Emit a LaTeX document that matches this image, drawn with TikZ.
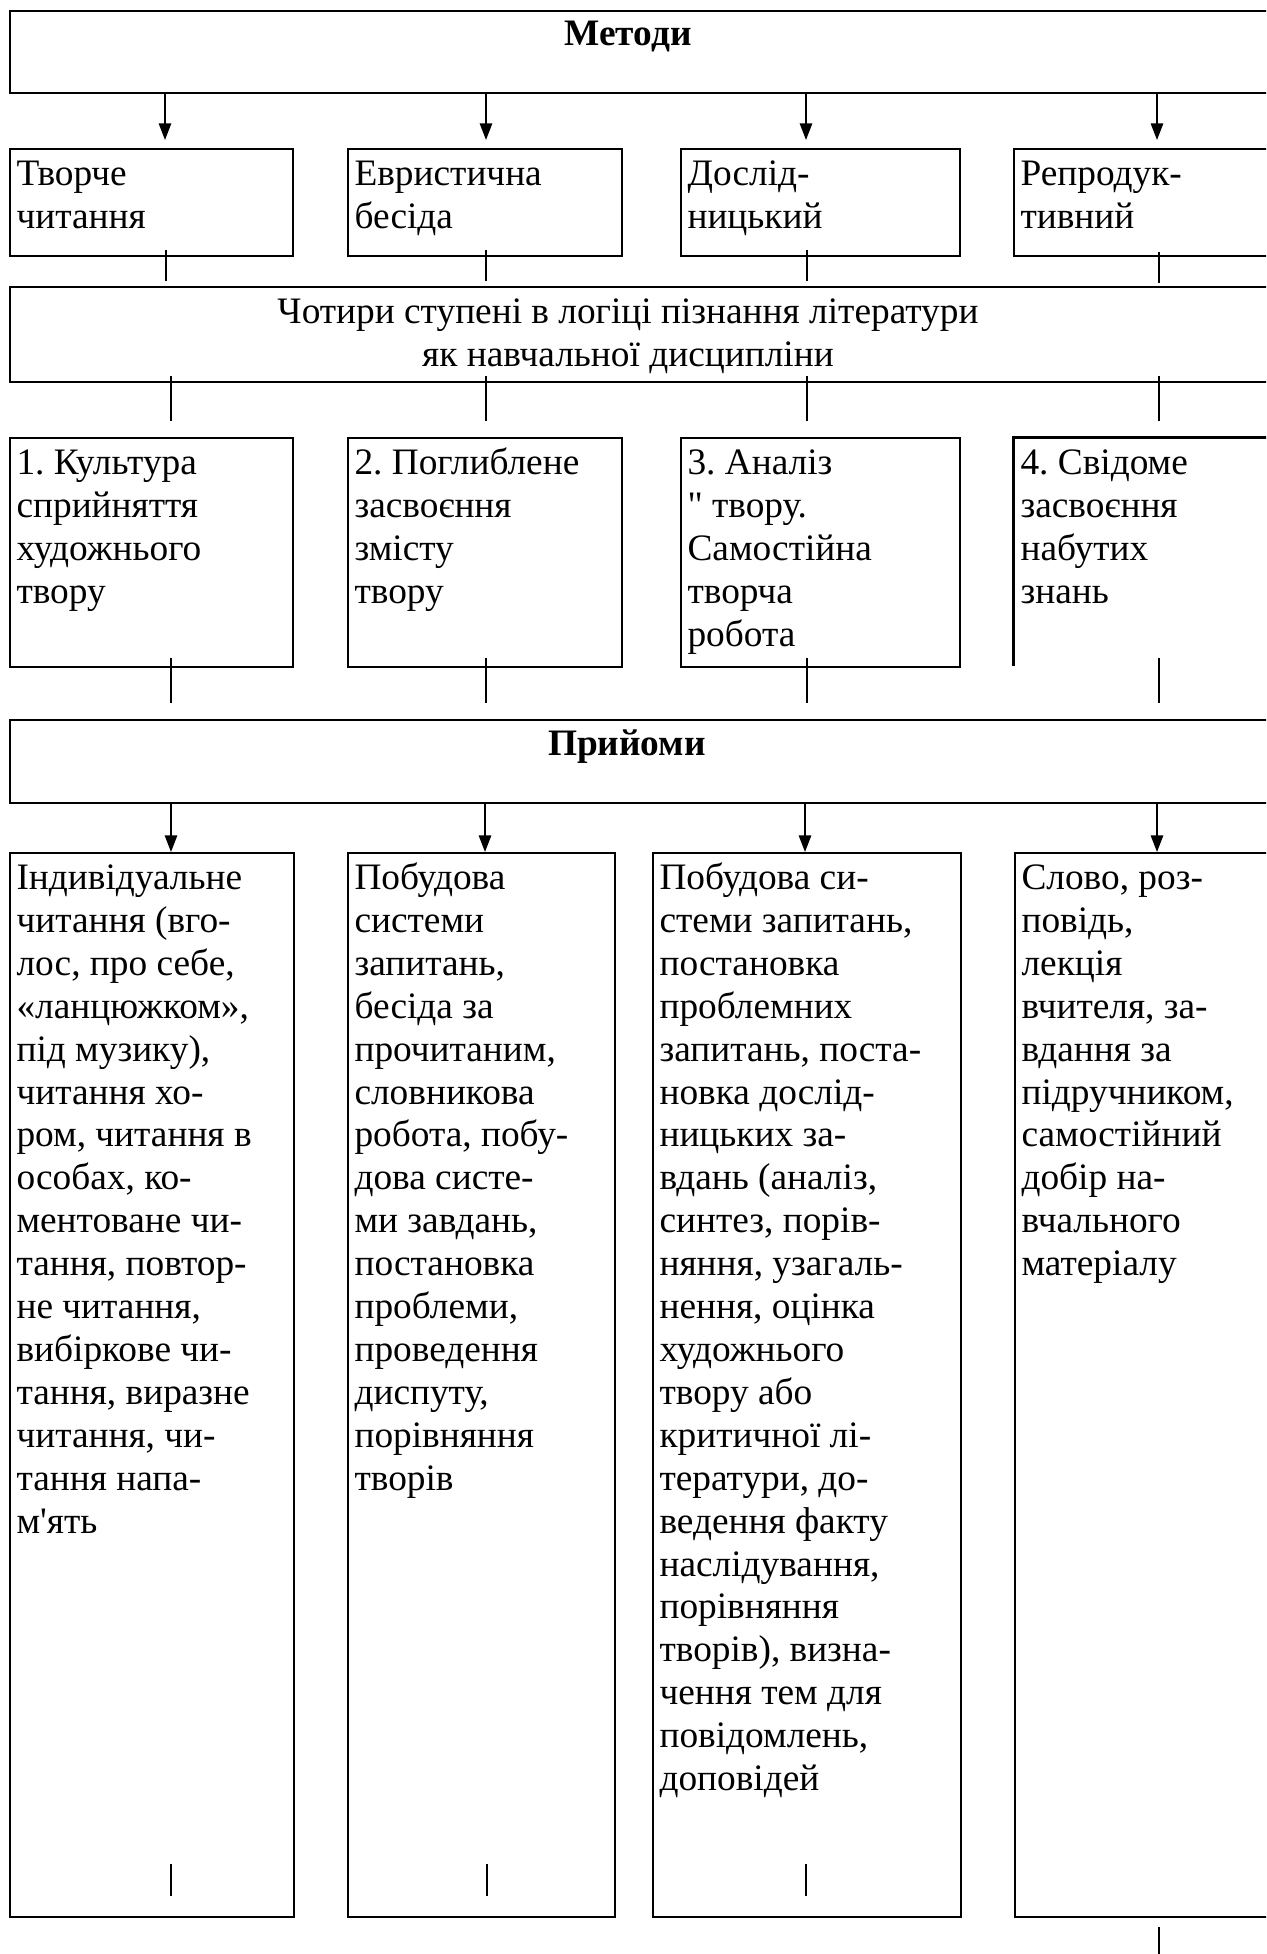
\documentclass[tikz,border=0pt]{standalone}
\usepackage{fontspec}
\setmainfont{Liberation Serif}[Ligatures=TeXOff]
\usetikzlibrary{arrows.meta,fit}
\newcommand\firststrut{\rule{0pt}{13pt}}
\frenchspacing
\begin{document}
\begin{tikzpicture}[x=0.375pt,y=-0.375pt,
  box/.style={draw,line width=0.9pt,inner sep=0pt},
  nobox/.style={inner sep=0pt},
  txt/.style={anchor=north west,inner sep=0pt,align=left,font=\fontsize{14}{16.09}\selectfont\frenchspacing},
  ctxt/.style={anchor=north,inner sep=0pt,align=center,font=\fontsize{14}{16.09}\selectfont},
  hdr/.style={anchor=base,inner sep=0pt,font=\fontsize{14}{16.09}\selectfont\bfseries},
  tick/.style={line width=0.5pt},
  arr/.style={line width=0.65pt,-{Triangle[length=6.2pt,width=4.6pt]}}]
\useasboundingbox (0,0) rectangle (1266,1954);
\clip (0,0) rectangle (1266,1954);

% Row 1: Методи
\node[box,fit={(10,11)(1290,93)}] (m) {};
\node[hdr] (mt) at (628,46) {Методи};

% Row 2
\node[box,fit={(10,149)(293,256)}] (a1) {};
\node[box,fit={(348,149)(622,256)}] (a2) {};
\node[box,fit={(681,149)(960,256)}] (a3) {};
\node[box,fit={(1014,149)(1290,256)}] (a4) {};
\node[txt] (a1t) at (16,150.3) {\firststrut Творче\\читання};
\node[txt] (a2t) at (354,150.3) {\firststrut Евристична\\бесіда};
\node[txt] (a3t) at (687,150.3) {\firststrut Дослід-\\ницький};
\node[txt] (a4t) at (1020,150.3) {\firststrut Репродук-\\тивний};

% Row 3
\node[box,fit={(10,287)(1290,382)}] (c) {};
\node[ctxt] (ct) at (628,288.3) {\firststrut Чотири ступені в логіці пізнання літератури\\як навчальної дисципліни};

% Row 4
\node[box,fit={(10,438)(293,667)}] (b1) {};
\node[box,fit={(348,438)(622,667)}] (b2) {};
\node[box,fit={(681,438)(960,667)}] (b3) {};
\node[nobox,fit={(1014,438)(1290,665)}] (b4) {};
\draw[line width=0.9pt] (b4.south west) -- (b4.north west) -- (b4.north east);
\node[txt] (b1t) at (16,439.3) {\firststrut 1. Культура\\сприйняття\\художнього\\твору};
\node[txt] (b2t) at (354,439.3) {\firststrut 2. Поглиблене\\засвоєння\\змісту\\твору};
\node[txt] (b3t) at (687,439.3) {\firststrut 3. Аналіз\\" твору.\\Самостійна\\творча\\робота};
\node[txt] (b4t) at (1020,439.3) {\firststrut 4. Свідоме\\засвоєння\\набутих\\знань};

% Row 5: Прийоми
\node[box,fit={(10,720)(1290,803)}] (p) {};
\node[hdr] (pt) at (627,755) {Прийоми};

% Row 6
\node[box,fit={(10,853)(294,1917)}] (d1) {};
\node[box,fit={(348,853)(615,1917)}] (d2) {};
\node[box,fit={(653,853)(961,1917)}] (d3) {};
\node[box,fit={(1015,853)(1290,1917)}] (d4) {};
\node[txt] (d1t) at (16,854.3) {\firststrut Індивідуальне\\читання (вго-\\лос, про себе,\\«ланцюжком»,\\під музику),\\читання хо-\\ром, читання в\\особах, ко-\\ментоване чи-\\тання, повтор-\\не читання,\\вибіркове чи-\\тання, виразне\\читання, чи-\\тання напа-\\м'ять};
\node[txt] (d2t) at (354,854.3) {\firststrut Побудова\\системи\\запитань,\\бесіда за\\прочитаним,\\словникова\\робота, побу-\\дова систе-\\ми завдань,\\постановка\\проблеми,\\проведення\\диспуту,\\порівняння\\творів};
\node[txt] (d3t) at (659,854.3) {\firststrut Побудова си-\\стеми запитань,\\постановка\\проблемних\\запитань, поста-\\новка дослід-\\ницьких за-\\вдань (аналіз,\\синтез, порів-\\няння, узагаль-\\нення, оцінка\\художнього\\твору або\\критичної лі-\\тератури, до-\\ведення факту\\наслідування,\\порівняння\\творів), визна-\\чення тем для\\повідомлень,\\доповідей};
\node[txt] (d4t) at (1021,854.3) {\firststrut Слово, роз-\\повідь,\\лекція\\вчителя, за-\\вдання за\\підручником,\\самостійний\\добір на-\\вчального\\матеріалу};

% Arrows Методи -> row 2
\foreach \x [count=\i] in {165,486,806,1157} {
  \coordinate (ma\i) at (\x,140);
  \draw[arr] (m.south -| ma\i) -- (ma\i);
}
% Ticks row 2 -> row 3
\foreach \x/\ya/\yb [count=\i] in {166/250/281,486/250/281,807/250/281,1159/252/283} {
  \coordinate (ra\i) at (\x,\ya);
  \coordinate (rb\i) at (\x,\yb);
  \draw[tick] (ra\i) -- (rb\i);
}
% Ticks row 3 -> row 4
\foreach \x [count=\i] in {171,486,807,1159} {
  \coordinate (sa\i) at (\x,376);
  \coordinate (sb\i) at (\x,421);
  \draw[tick] (sa\i) -- (sb\i);
}
% Ticks row 4 -> row 5
\foreach \x [count=\i] in {171,486,807,1159} {
  \coordinate (ta\i) at (\x,658);
  \coordinate (tb\i) at (\x,703);
  \draw[tick] (ta\i) -- (tb\i);
}
% Arrows Прийоми -> row 6
\foreach \x [count=\i] in {171,485,805,1157} {
  \coordinate (pa\i) at (\x,852);
  \draw[arr] (p.south -| pa\i) -- (pa\i);
}
% Ticks at the bottom
\foreach \x [count=\i] in {171,487,806} {
  \coordinate (ua\i) at (\x,1864);
  \coordinate (ub\i) at (\x,1896);
  \draw[tick] (ua\i) -- (ub\i);
}
\coordinate (va) at (1159,1927);
\coordinate (vb) at (1159,1960);
\draw[tick] (va) -- (vb);
\end{tikzpicture}
\end{document}
